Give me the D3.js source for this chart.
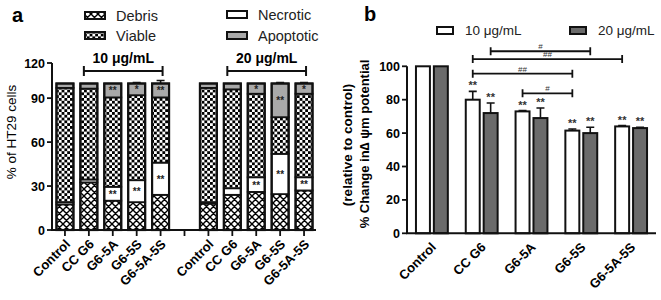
<!DOCTYPE html>
<html>
<head>
<meta charset="utf-8">
<script src="https://cdn.jsdelivr.net/npm/d3@7"></script>
<style>
  body { margin: 0; background: #fff; }
  svg { font-family: "Liberation Sans", Arial, sans-serif; }
</style>
</head>
<body>
<div id="chart"></div>
<script>
// panel a: cell fate, stacked %
const slots = ["Control", "CC G6", "G6-5A", "G6-5S", "G6-5A-5S", "", "Control", "CC G6", "G6-5A", "G6-5S", "G6-5A-5S"];
const debris    = [17.5, 32.5, 20, 19, 24, null, 18, 24, 26, 24.5, 27];
const necrotic  = [1.5, 2, 9.5, 15, 22, null, 1, 4.5, 10, 27.5, 9];
const viable    = [78, 62, 61, 58, 44.5, null, 78, 67.5, 57, 25, 57];
const apoptotic = [3, 3.5, 9.5, 8, 9.5, null, 3, 4, 7, 23, 7];
const topErr    = [0.5, 0.5, 0.5, 1, 3, null, 0.5, 0.5, 0.5, 1, 1];
const necroticSig  = ["", "", "**", "**", "**", "", "", "", "**", "**", "**"];
const apoptoticSig = ["", "", "**", "*", "**", "", "", "", "*", "**", "*"];
const leftTicks = [0, 30, 60, 90, 120];

// panel b: membrane potential
const groups = ["Control", "CC G6", "G6-5A", "G6-5S", "G6-5A-5S"];
const doses = ["10 μg/mL", "20 μg/mL"];
const mmp10 = [100, 80, 73, 61.5, 64];
const mmp20 = [100, 72, 69, 60, 63];
const err10 = [0, 5, 0.5, 1, 0.5];
const err20 = [0, 6, 6, 3.5, 0.5];
const sig10 = ["", "**", "**", "**", "**"];
const sig20 = ["", "**", "**", "**", "**"];
const rightTicks = [0, 20, 40, 60, 80, 100];
const brackets = [
  { a: [1, 1], b: [3, 1], level: 109, label: "#" },
  { a: [1, 0], b: [4, 0], level: 104.3, label: "##" },
  { a: [1, 0], b: [3, 0], level: 95.6, label: "##" },
  { a: [2, 0], b: [3, 0], level: 83.8, label: "#" }
];

const svg = d3.select('#chart').append('svg')
  .attr('width', 661)
  .attr('height', 300);

const defs = svg.append('defs');
const hatch = defs.append('pattern')
  .attr('id', 'hatch')
  .attr('patternUnits', 'userSpaceOnUse')
  .attr('width', 7).attr('height', 7);
hatch.append('rect').attr('width', 7).attr('height', 7).attr('fill', '#fff');
hatch.append('path').attr('d', 'M0,0L7,7M7,0L0,7M-1,6L1,8M6,-1L8,1M-1,1L1,-1M6,8L8,6')
  .attr('stroke', '#000').attr('stroke-width', 1.4);

const checker = defs.append('pattern')
  .attr('id', 'checker')
  .attr('patternUnits', 'userSpaceOnUse')
  .attr('width', 5.6).attr('height', 5.6);
checker.append('rect').attr('width', 5.6).attr('height', 5.6).attr('fill', '#fff');
checker.append('rect').attr('width', 2.8).attr('height', 2.8).attr('fill', '#000');
checker.append('rect').attr('x', 2.8).attr('y', 2.8).attr('width', 2.8).attr('height', 2.8).attr('fill', '#000');

const fills = { debris: 'url(#hatch)', necrotic: '#fff', viable: 'url(#checker)', apoptotic: '#a9a9a9' };

// ---------- panel a ----------
const xL = d3.scaleBand()
  .domain(d3.range(slots.length))
  .range([53, 316])
  .paddingInner(0.29)
  .paddingOuter(0.145);

const yL = d3.scaleLinear()
  .domain([0, 100, 120])
  .range([230, 83.5, 63]);

const table = slots.map((s, i) => ({
  i: i, debris: debris[i], necrotic: necrotic[i], viable: viable[i], apoptotic: apoptotic[i]
})).filter(d => d.debris !== null);

const keys = ['debris', 'necrotic', 'viable', 'apoptotic'];
const stacked = d3.stack().keys(keys)(table);

const gA = svg.append('g');

stacked.forEach(layer => {
  gA.selectAll('.seg-' + layer.key)
    .data(layer)
    .enter().append('rect')
    .attr('x', d => xL(d.data.i))
    .attr('y', d => yL(d[1]))
    .attr('width', xL.bandwidth())
    .attr('height', d => yL(d[0]) - yL(d[1]))
    .attr('fill', fills[layer.key])
    .attr('stroke', '#111')
    .attr('stroke-width', 1.8);
});

// outline of each bar
gA.selectAll('.outline')
  .data(table)
  .enter().append('rect')
  .attr('x', d => xL(d.i))
  .attr('y', yL(100))
  .attr('width', xL.bandwidth())
  .attr('height', yL(0) - yL(100))
  .attr('fill', 'none')
  .attr('stroke', '#111')
  .attr('stroke-width', 2.2);

// top error bars
gA.selectAll('.err')
  .data(table.filter(d => topErr[d.i] > 0.8))
  .enter().append('path')
  .attr('d', d => {
    const cx = xL(d.i) + xL.bandwidth() / 2;
    const y1 = yL(100 + topErr[d.i]);
    return `M${cx},${yL(100)}V${y1}M${cx - 4},${y1}H${cx + 4}`;
  })
  .attr('stroke', '#111')
  .attr('stroke-width', 1.6);

// asterisks inside segments
const sigText = (layerKey, sigs) => {
  const layer = stacked.find(l => l.key === layerKey);
  gA.selectAll('.sig-' + layerKey)
    .data(layer.filter(d => sigs[d.data.i]))
    .enter().append('text')
    .attr('x', d => xL(d.data.i) + xL.bandwidth() / 2)
    .attr('y', d => (yL(d[0]) + yL(d[1])) / 2 + 4)
    .attr('text-anchor', 'middle')
    .attr('font-size', '10px')
    .attr('font-weight', 'bold')
    .attr('fill', '#222')
    .text(d => sigs[d.data.i]);
};
sigText('necrotic', necroticSig);
sigText('apoptotic', apoptoticSig);

// axes
gA.append('path')
  .attr('d', `M52,${yL(120)}V230H316`)
  .attr('fill', 'none').attr('stroke', '#111').attr('stroke-width', 2);

gA.selectAll('.ytick')
  .data(leftTicks)
  .enter().append('path')
  .attr('d', d => `M52,${yL(d)}H47`)
  .attr('stroke', '#111').attr('stroke-width', 1.8);

gA.selectAll('.ylab')
  .data(leftTicks)
  .enter().append('text')
  .attr('x', 45)
  .attr('y', d => yL(d) + 4.5)
  .attr('text-anchor', 'end')
  .attr('font-size', '12.5px')
  .attr('font-weight', 'bold')
  .text(d => d);

gA.selectAll('.xtick')
  .data(slots)
  .enter().append('path')
  .attr('d', (d, i) => `M${xL(i) + xL.bandwidth() / 2},230v6`)
  .attr('stroke', '#111').attr('stroke-width', 1.8);

gA.selectAll('.xlab')
  .data(slots)
  .enter().append('text')
  .attr('transform', (d, i) => `translate(${xL(i) + xL.bandwidth() / 2 + 6},245) rotate(-45)`)
  .attr('text-anchor', 'end')
  .attr('font-size', '13px')
  .attr('font-weight', 'bold')
  .text(d => d);

gA.append('text')
  .attr('transform', 'translate(16,132) rotate(-90)')
  .attr('text-anchor', 'middle')
  .attr('font-size', '13.5px')
  .text('% of HT29 cells');

gA.append('text')
  .attr('x', 12).attr('y', 22)
  .attr('font-size', '20px').attr('font-weight', 'bold')
  .text('a');

// dose brackets
const doseBrackets = [[1, 4, '10 μg/mL'], [7, 10, '20 μg/mL']];
doseBrackets.forEach(b => {
  const x0 = xL(b[0]) + xL.bandwidth() / 2 - 5;
  const x1 = xL(b[1]) + xL.bandwidth() / 2 + 2;
  gA.append('path')
    .attr('d', `M${x0},71H${x1}M${x0},66V76M${x1},66V76`)
    .attr('stroke', '#111').attr('stroke-width', 2);
  gA.append('text')
    .attr('x', (x0 + x1) / 2).attr('y', 63)
    .attr('text-anchor', 'middle')
    .attr('font-size', '14px').attr('font-weight', 'bold')
    .text(b[2]);
});

// legend a
const legendA = [
  { key: 'debris', label: 'Debris', x: 85, y: 12 },
  { key: 'viable', label: 'Viable', x: 85, y: 32 },
  { key: 'necrotic', label: 'Necrotic', x: 227, y: 11 },
  { key: 'apoptotic', label: 'Apoptotic', x: 227, y: 32 }
];
legendA.forEach(l => {
  gA.append('rect')
    .attr('x', l.x).attr('y', l.y)
    .attr('width', 20).attr('height', 7)
    .attr('fill', fills[l.key])
    .attr('stroke', '#111').attr('stroke-width', 2);
  gA.append('text')
    .attr('x', l.x + 31).attr('y', l.y + 9)
    .attr('font-size', '14.5px')
    .attr('fill', '#222')
    .text(l.label);
});

// ---------- panel b ----------
const xR = d3.scaleBand()
  .domain(groups)
  .range([407, 656])
  .paddingInner(0.36)
  .paddingOuter(0.18);

const xSub = d3.scaleBand()
  .domain(doses)
  .range([0, xR.bandwidth()])
  .paddingInner(0.22);

const yR = d3.scaleLinear()
  .domain([0, 100])
  .range([233.3, 66.3]);

const seriesR = [
  { dose: doses[0], vals: mmp10, errs: err10, sig: sig10, fill: '#fff' },
  { dose: doses[1], vals: mmp20, errs: err20, sig: sig20, fill: '#6b6b6b' }
];

const gB = svg.append('g');
const barX = (gi, si) => xR(groups[gi]) + xSub(doses[si]) + xSub.bandwidth() / 2;

seriesR.forEach((s, si) => {
  gB.selectAll('.bar' + si)
    .data(groups)
    .enter().append('rect')
    .attr('x', g => xR(g) + xSub(s.dose))
    .attr('y', (g, i) => yR(s.vals[i]))
    .attr('width', xSub.bandwidth())
    .attr('height', (g, i) => yR(0) - yR(s.vals[i]))
    .attr('fill', s.fill)
    .attr('stroke', '#111')
    .attr('stroke-width', 2);

  gB.selectAll('.err' + si)
    .data(groups.filter((g, i) => s.errs[i] > 0))
    .enter().append('path')
    .attr('d', g => {
      const i = groups.indexOf(g);
      const cx = barX(i, si);
      const y0 = yR(s.vals[i]);
      const y1 = yR(s.vals[i] + s.errs[i]);
      return `M${cx},${y0}V${y1}M${cx - 4},${y1}H${cx + 4}`;
    })
    .attr('stroke', '#111')
    .attr('stroke-width', 1.6);

  gB.selectAll('.sig' + si)
    .data(groups.filter((g, i) => s.sig[i]))
    .enter().append('text')
    .attr('x', g => barX(groups.indexOf(g), si))
    .attr('y', g => {
      const i = groups.indexOf(g);
      return yR(s.vals[i] + s.errs[i]) - 2;
    })
    .attr('text-anchor', 'middle')
    .attr('font-size', '11px')
    .attr('font-weight', 'bold')
    .attr('fill', '#333')
    .text(g => s.sig[groups.indexOf(g)]);
});

// significance brackets
brackets.forEach(b => {
  const x0 = barX(b.a[0], b.a[1]);
  const x1 = barX(b.b[0], b.b[1]);
  const y = yR(b.level);
  gB.append('path')
    .attr('d', `M${x0},${y}H${x1}M${x0},${y - 4}V${y + 4}M${x1},${y - 4}V${y + 4}`)
    .attr('stroke', '#111').attr('stroke-width', 1.8);
  gB.append('text')
    .attr('x', (x0 + x1) / 2).attr('y', y - 2)
    .attr('text-anchor', 'middle')
    .attr('font-size', '8px')
    .attr('fill', '#333')
    .text(b.label);
});

// axes b
gB.append('path')
  .attr('d', `M407,${yR(100)}V${yR(0)}H656`)
  .attr('fill', 'none').attr('stroke', '#111').attr('stroke-width', 2);

gB.selectAll('.ytick')
  .data(rightTicks)
  .enter().append('path')
  .attr('d', d => `M407,${yR(d)}H402`)
  .attr('stroke', '#111').attr('stroke-width', 1.8);

gB.selectAll('.ylab')
  .data(rightTicks)
  .enter().append('text')
  .attr('x', 400)
  .attr('y', d => yR(d) + 4.5)
  .attr('text-anchor', 'end')
  .attr('font-size', '12.5px')
  .attr('font-weight', 'bold')
  .text(d => d);

gB.selectAll('.xlab')
  .data(groups)
  .enter().append('text')
  .attr('transform', g => `translate(${xR(g) + xR.bandwidth() / 2 + 5},248) rotate(-45)`)
  .attr('text-anchor', 'end')
  .attr('font-size', '13px')
  .attr('font-weight', 'bold')
  .text(g => g);

gB.append('text')
  .attr('transform', 'translate(352,145) rotate(-90)')
  .attr('text-anchor', 'middle')
  .attr('font-size', '13.5px').attr('font-weight', 'bold')
  .text('(relative to control)');

gB.append('text')
  .attr('transform', 'translate(369,144) rotate(-90)')
  .attr('text-anchor', 'middle')
  .attr('font-size', '13px').attr('font-weight', 'bold')
  .text('% Change in∆ ψm potential');

gB.append('text')
  .attr('x', 364).attr('y', 21)
  .attr('font-size', '20px').attr('font-weight', 'bold')
  .text('b');

// legend b
const legendB = [
  { label: doses[0], fill: '#fff', x: 437 },
  { label: doses[1], fill: '#6b6b6b', x: 570 }
];
legendB.forEach(l => {
  gB.append('rect')
    .attr('x', l.x).attr('y', 27)
    .attr('width', 16).attr('height', 7)
    .attr('fill', l.fill)
    .attr('stroke', '#111').attr('stroke-width', 2);
  gB.append('text')
    .attr('x', l.x + 28).attr('y', 35)
    .attr('font-size', '13.5px')
    .attr('fill', '#222')
    .text(l.label);
});
</script>
</body>
</html>
